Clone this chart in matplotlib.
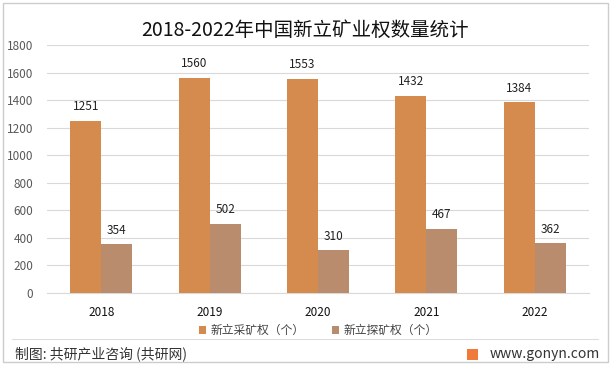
import matplotlib.pyplot as plt
import numpy as np
from matplotlib.patches import Rectangle

plt.rcParams['font.family'] = ['Noto Sans CJK SC', 'DejaVu Sans']

years = ["2018", "2019", "2020", "2021", "2022"]
mining = [1251, 1560, 1553, 1432, 1384]
exploration = [354, 502, 310, 467, 362]
series_names = ["新立采矿权（个）", "新立探矿权（个）"]

c_mining = "#D58B4D"
c_explore = "#BA8C6E"

fig = plt.figure(figsize=(6.11, 3.68), dpi=100)
ax = fig.add_axes([47 / 611, 1 - 293 / 368, 542 / 611, 248 / 368])

x = np.arange(len(years))
w = 0.286
b1 = ax.bar(x - w / 2, mining, w, color=c_mining, label=series_names[0], zorder=3)
b2 = ax.bar(x + w / 2, exploration, w, color=c_explore, label=series_names[1], zorder=3)

for bars in (b1, b2):
    for r in bars:
        ax.text(r.get_x() + r.get_width() / 2, r.get_height() + 55, f"{int(r.get_height())}",
                ha="center", va="bottom", fontsize=8.5, color="#222222", zorder=4)

ax.set_xlim(-0.5, len(years) - 0.5)
ax.set_ylim(0, 1800)
ax.set_yticks(range(0, 1801, 200))
ax.set_xticks(x)
ax.set_xticklabels(years)
ax.grid(axis="y", color="#d9d9d9", linewidth=0.8, zorder=0)
for s in ["top", "right", "left"]:
    ax.spines[s].set_visible(False)
ax.spines["bottom"].set_color("#d9d9d9")
ax.tick_params(axis="both", length=0, labelsize=8.5, colors="#444444")
ax.tick_params(axis="x", pad=9, labelcolor="#111111")
ax.tick_params(axis="y", pad=10, labelcolor="#595959")

fig.text(0.5, 1 - 30 / 368, "2018-2022年中国新立矿业权数量统计", ha="center", va="center",
         fontsize=14, color="#111111")

ax.legend(loc="center", bbox_to_anchor=(0.5, -0.152), ncol=2, frameon=False,
          fontsize=8.5, handlelength=0.6, handleheight=0.6, columnspacing=2.3,
          handletextpad=0.4, labelcolor="#444444")

# frame and footer
fig.patches.append(Rectangle((3 / 611, 6 / 368), 605 / 611, 359 / 368, transform=fig.transFigure,
                             fill=False, edgecolor="#cccccc", linewidth=1))
fig.lines.append(plt.Line2D([12 / 611, 598 / 611], [1 - 339 / 368, 1 - 339 / 368],
                            transform=fig.transFigure, color="#dddddd", linewidth=0.8))
fig.text(15 / 611, 1 - 354 / 368, "制图: 共研产业咨询 (共研网)", ha="left", va="center",
         fontsize=10, color="#333333")
fig.patches.append(Rectangle((467 / 611, 1 - 360 / 368), 11 / 611, 11 / 368, transform=fig.transFigure,
                             facecolor="#F07A3A", edgecolor="none"))
fig.text(600 / 611, 1 - 354 / 368, "www.gonyn.com", ha="right", va="center",
         fontsize=10, color="#333333")

fig.savefig("out.png", dpi=100)
